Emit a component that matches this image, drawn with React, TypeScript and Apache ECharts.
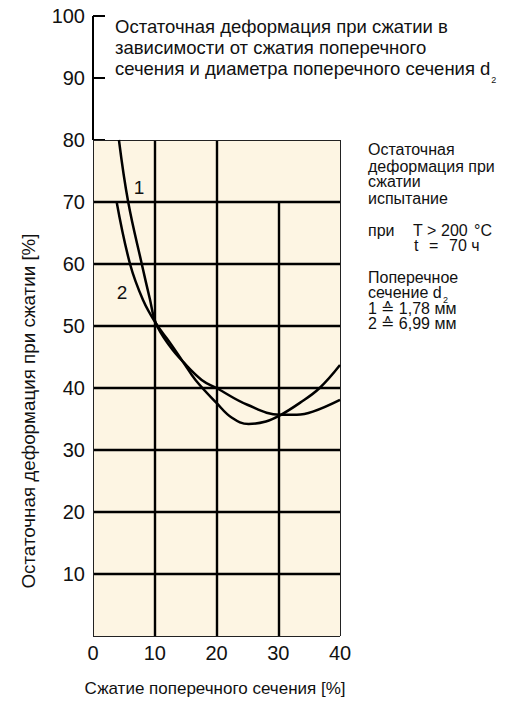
import React, { useEffect, useRef } from 'react';
import * as echarts from 'echarts';

// ---- data ----
const xTicks = [0, 10, 20, 30, 40];
const yTicks = [0, 10, 20, 30, 40, 50, 60, 70, 80, 90, 100];

// Curve 1 (d2 = 1,78 mm)
const curve1X = [4.2, 5.7, 7.9, 9.2, 10.2, 12.4, 14.6, 17.6, 20, 25, 30.3, 33, 35.6, 40];
const curve1Y = [80, 70, 60, 54.4, 50.4, 46.8, 44.2, 41.3, 40.0, 37.3, 35.7, 35.7, 36.2, 38.1];

// Curve 2 (d2 = 6,99 mm)
const curve2X = [3.83, 6.0, 8.1, 10.2, 12.4, 14.6, 16.6, 20, 22.5, 25.2, 28, 30.3, 33.5, 36.7, 40];
const curve2Y = [70, 60, 54.2, 50.4, 47.4, 44.2, 41.3, 37.6, 35.2, 34.2, 34.6, 35.6, 37.6, 40, 43.7];

const curveLabels = ['1', '2'];
const curveLabelPos = [[7.44, 72.4], [4.7, 55.4]];

const titleLines = [
  'Остаточная деформация при сжатии в',
  'зависимости от сжатия поперечного',
  'сечения и диаметра поперечного сечения d',
];
const materialLines = ['Силикон', 'VMQ 70'];
const sideLinesA = ['Остаточная', 'деформация при', 'сжатии', 'испытание'];
const sideLinesC = ['Поперечное', 'сечение d', '1 ≙ 1,78 мм', '2 ≙ 6,99 мм'];
const xName = 'Сжатие поперечного сечения [%]';
const yName = 'Остаточная деформация при сжатии [%]';

const FONT = '"Liberation Sans", Arial, Helvetica, sans-serif';
const BEIGE = '#fdf5e3';

function textWidth(text: string, size: number) {
  const ctx = document.createElement('canvas').getContext('2d')!;
  ctx.font = `${size}px "Liberation Sans", Arial, sans-serif`;
  return ctx.measureText(text).width;
}

function txt(x: number, y: number, text: string, size: number, align = 'left', extra: any = {}) {
  return {
    type: 'text',
    x,
    y,
    silent: true,
    ...extra,
    style: { text, fontSize: size, fontFamily: FONT, fill: '#111', align, verticalAlign: 'middle' },
  };
}

export default function App() {
  const ref = useRef<HTMLDivElement>(null);
  useEffect(() => {
    const chart = echarts.init(ref.current!, null, { renderer: 'svg' });

    const thick = { color: '#000', width: 2.4, type: 'solid' };
    const thin = { color: '#222', width: 1, type: 'solid' };
    const seg = (a: number[], b: number[], ls: any) => [{ coord: a, lineStyle: ls }, { coord: b }];
    const gridLines: any[] = [];
    xTicks.slice(1, -1).forEach((x) => gridLines.push(seg([x, 0], [x, x === 30 ? 70 : 80], thick)));
    yTicks.filter((y) => y > 0 && y < 80).forEach((y) => gridLines.push(seg([0, y], [40, y], thick)));
    gridLines.push(seg([0, 0], [40, 0], thin));
    gridLines.push(seg([0, 80], [40, 80], thin));
    gridLines.push(seg([40, 0], [40, 80], thin));
    gridLines.push(seg([0, 0], [0, 80], thin));
    gridLines.push(seg([0, 80], [0, 100], { color: '#000', width: 2, type: 'solid' }));

    const tfs = 18.5;
    const sfs = 16;
    const graphics: any[] = [];
    const titleMid = [26.8, 47.5, 68.5];
    titleLines.forEach((t, i) => graphics.push(txt(115, titleMid[i], t, tfs)));
    graphics.push(txt(115 + textWidth(titleLines[2], tfs) + 1, 80.3, '2', 9));

    graphics.push(txt(282, 157.5, materialLines[0], 16, 'center'));
    graphics.push(txt(281, 177.5, materialLines[1], 16, 'center'));

    const sideX = 368;
    const midA = [149.4, 166.1, 181.7, 198.4];
    sideLinesA.forEach((t, i) => graphics.push(txt(sideX, midA[i], t, sfs)));
    graphics.push(txt(sideX, 230.4, 'при', sfs));
    graphics.push(txt(413, 230.4, 'T', sfs));
    graphics.push(txt(427, 230.4, '>', sfs));
    graphics.push(txt(441, 230.4, '200', sfs));
    graphics.push(txt(474, 230.4, '°C', sfs));
    graphics.push(txt(414, 245.1, 't', sfs));
    graphics.push(txt(429, 245.1, '=', sfs));
    graphics.push(txt(449, 245.1, '70 ч', sfs));
    const midC = [277.1, 292.7, 308.4, 323.4];
    sideLinesC.forEach((t, i) => graphics.push(txt(sideX, midC[i], t, sfs)));
    graphics.push(txt(sideX + textWidth(sideLinesC[1], sfs) + 1.5, 299.5, '2', 9));

    graphics.push(txt(215, 688, xName, 17, 'center'));
    graphics.push(txt(28, 411, yName, 18.8, 'center', { rotation: Math.PI / 2 }));

    const labelStyle = { show: true, position: 'inside', fontSize: 19, fontFamily: FONT, color: '#111' };

    chart.setOption({
      animation: false,
      backgroundColor: '#fff',
      grid: { left: 93, right: 183, top: 16, bottom: 73, containLabel: false },
      xAxis: {
        type: 'value', min: 0, max: 40, interval: 10,
        axisLine: { show: false }, axisTick: { show: false }, splitLine: { show: false },
        axisLabel: { fontSize: 20, fontFamily: FONT, color: '#111', margin: 7 },
      },
      yAxis: {
        type: 'value', min: 0, max: 100, interval: 10,
        axisLine: { show: false },
        axisTick: { show: true, inside: true, length: 12, lineStyle: { color: '#000', width: 2 } },
        splitLine: { show: false },
        axisLabel: {
          fontSize: 20, fontFamily: FONT, color: '#111', margin: 8,
          formatter: (v: number) => (v === 0 ? '' : String(v)),
        },
      },
      graphic: graphics,
      series: [
        {
          type: 'line',
          data: curve1X.map((x, i) => [x, curve1Y[i]]),
          smooth: 0.4,
          symbol: 'none',
          lineStyle: { color: '#000', width: 2.5 },
          z: 6,
          markArea: {
            silent: true,
            itemStyle: { color: BEIGE },
            data: [[{ coord: [0, 0] }, { coord: [40, 80] }]],
          },
          markLine: {
            silent: true,
            symbol: ['none', 'none'],
            label: { show: false },
            data: gridLines,
          },
          markPoint: {
            silent: true,
            symbolSize: 0,
            label: labelStyle,
            data: [{ coord: curveLabelPos[0], label: { formatter: curveLabels[0] } }],
          },
        },
        {
          type: 'line',
          data: curve2X.map((x, i) => [x, curve2Y[i]]),
          smooth: 0.4,
          symbol: 'none',
          lineStyle: { color: '#000', width: 2.5 },
          z: 6,
          markPoint: {
            silent: true,
            symbolSize: 0,
            label: labelStyle,
            data: [{ coord: curveLabelPos[1], label: { formatter: curveLabels[1] } }],
          },
        },
      ],
    });
    return () => chart.dispose();
  }, []);
  return <div ref={ref} style={{ position: 'fixed', left: 0, top: 0, width: 523, height: 709 }} />;
}
